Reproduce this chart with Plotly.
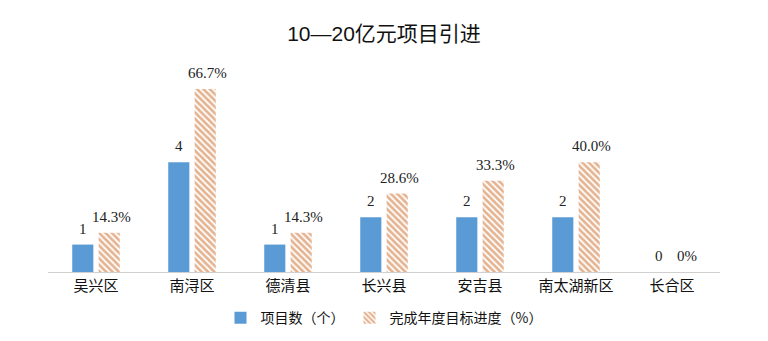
import plotly.graph_objects as go

categories = ["吴兴区", "南浔区", "德清县", "长兴县", "安吉县", "南太湖新区", "长合区"]
project_counts = [1, 4, 1, 2, 2, 2, 0]
progress_pct = [14.3, 66.7, 14.3, 28.6, 33.3, 40.0, 0]

count_text = [str(v) for v in project_counts]
pct_text = [(f"{v:.1f}%" if v else "0%") for v in progress_pct]

cjk = "Noto Sans CJK SC, Noto Sans, sans-serif"
serif = "Liberation Serif, Times New Roman, serif"
label_font = dict(family=serif, size=15, color="#222")

fig = go.Figure()
fig.add_trace(go.Bar(
    x=categories, y=project_counts, name="项目数（个）",
    marker=dict(color="#5B9BD5", line=dict(width=0)),
    cliponaxis=False, offsetgroup="a", yaxis="y",
))
fig.add_trace(go.Bar(
    x=categories, y=progress_pct, name="完成年度目标进度（%）",
    marker=dict(color="white",
                pattern=dict(shape="\\", fgcolor="#C9651F", bgcolor="white",
                             size=4.5, solidity=0.6, fillmode="overlay"),
                line=dict(width=0)),
    cliponaxis=False, offsetgroup="b", yaxis="y2",
))

annotations = []
for c, v, t in zip(categories, project_counts, count_text):
    annotations.append(dict(x=c, y=v, xref="x", yref="y", text=t, showarrow=False,
                            xanchor="center", yanchor="bottom", xshift=-13, yshift=6,
                            font=label_font))
for c, v, t in zip(categories, progress_pct, pct_text):
    annotations.append(dict(x=c, y=v, xref="x", yref="y2", text=t, showarrow=False,
                            xanchor="center", yanchor="bottom", xshift=15, yshift=6,
                            font=label_font))

fig.update_layout(
    width=768, height=341,
    margin=dict(l=48, r=48, t=79.5, b=69, autoexpand=False),
    paper_bgcolor="white", plot_bgcolor="white",
    barmode="group", bargap=0.45, bargroupgap=0.2,
    annotations=annotations,
    title=dict(text="10—20亿元项目引进", x=0.5, xanchor="center", y=0.9, yanchor="middle",
               font=dict(family="Liberation Sans, Noto Sans CJK SC, sans-serif", size=21, color="#111")),
    xaxis=dict(showline=True, linecolor="#D0D0D0", linewidth=1, ticks="", automargin=False,
               tickfont=dict(family=cjk, size=15, color="#111"), showgrid=False),
    yaxis=dict(range=[0, 7], visible=False, showgrid=False),
    yaxis2=dict(range=[0, 70], visible=False, showgrid=False, overlaying="y"),
    legend=dict(orientation="h", x=0.5, xanchor="center", y=-0.24, yanchor="middle",
                font=dict(family=cjk, size=14, color="#111"), itemwidth=30),
    showlegend=True,
)

fig.write_html("out.html")
